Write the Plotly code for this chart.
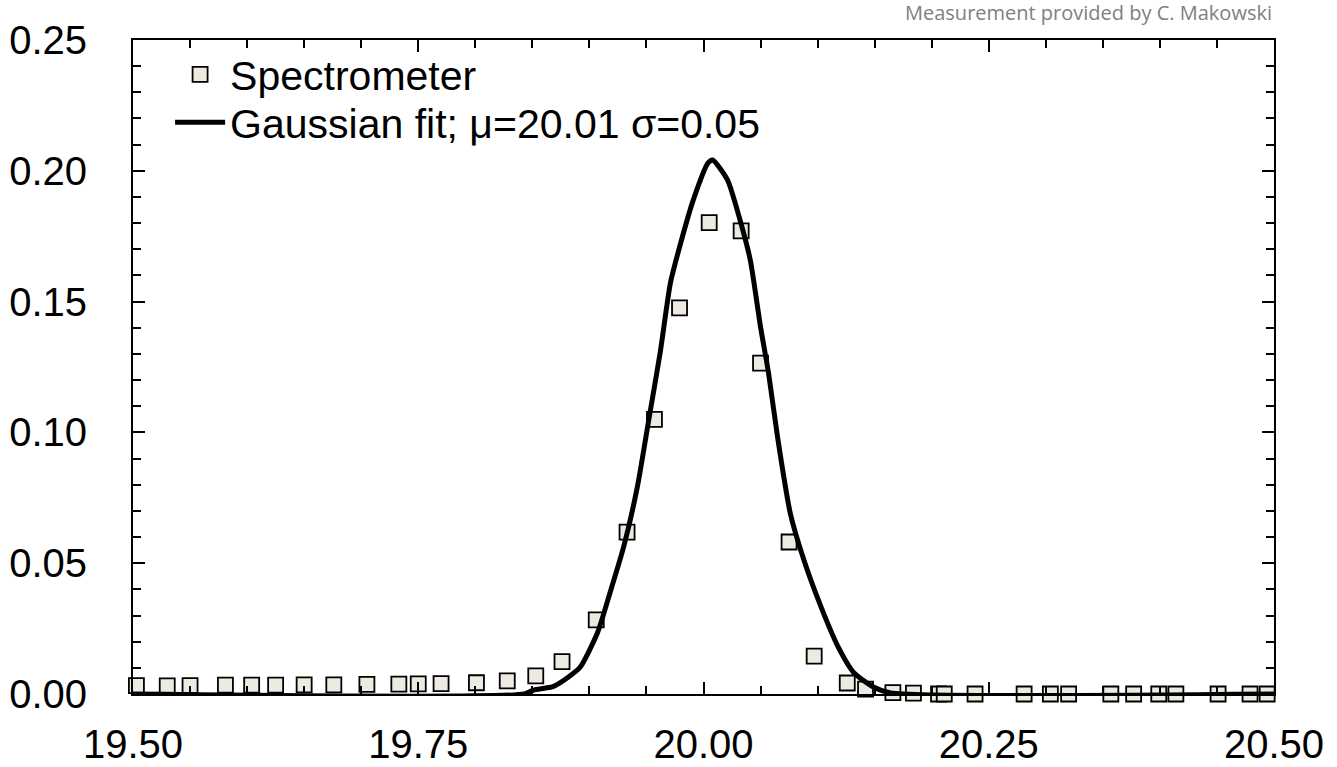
import plotly.graph_objects as go

spec_x = [19.503, 19.530, 19.550, 19.581, 19.604, 19.625, 19.650, 19.676, 19.705, 19.733,
          19.750, 19.770, 19.801, 19.828, 19.853, 19.876, 19.906, 19.933, 19.957, 19.979,
          20.005, 20.033, 20.050, 20.075, 20.097, 20.126, 20.142, 20.166, 20.184, 20.206,
          20.211, 20.238, 20.281, 20.304, 20.320, 20.357, 20.377, 20.399, 20.414, 20.451,
          20.479, 20.494]
spec_y = [0.0032, 0.0031, 0.0032, 0.0034, 0.0034, 0.0034, 0.0035, 0.0035, 0.0037, 0.0038,
          0.0039, 0.0040, 0.0043, 0.0050, 0.0069, 0.0124, 0.0283, 0.0619, 0.1050, 0.1476,
          0.1802, 0.1770, 0.1265, 0.0581, 0.0145, 0.0042, 0.0019, 0.0005, 0.0003, 0.0000,
          0.0000, 0.0000, 0.0000, 0.0000, 0.0000, 0.0000, 0.0000, 0.0000, 0.0000, 0.0000,
          0.0000, 0.0000]

# Gaussian fit curve
fit_x = [19.500, 19.843, 19.851, 19.868, 19.882, 19.892, 19.907, 19.918, 19.930, 19.942,
         19.952, 19.962, 19.971, 19.980, 19.991, 20.004, 20.008, 20.021, 20.032, 20.041,
         20.050, 20.057, 20.065, 20.076, 20.088, 20.103, 20.118, 20.132, 20.149, 20.164,
         20.500]
fit_y = [0.0000, 0.0000, 0.0015, 0.0028, 0.0066, 0.0103, 0.0233, 0.0386, 0.0562, 0.0791,
         0.1047, 0.1304, 0.1571, 0.1724, 0.1888, 0.2030, 0.2041, 0.1965, 0.1812, 0.1659,
         0.1403, 0.1227, 0.0979, 0.0692, 0.0512, 0.0333, 0.0180, 0.0080, 0.0027, 0.0004,
         0.0000]

x_ticks = [19.50, 19.75, 20.00, 20.25, 20.50]
y_ticks = [0.00, 0.05, 0.10, 0.15, 0.20, 0.25]

FONT = "Liberation Sans, Arial, sans-serif"

fig = go.Figure()
fig.add_trace(go.Scatter(
    x=spec_x, y=spec_y, mode="markers", name="Spectrometer",
    marker=dict(symbol="square", size=15, color="#EDEBE1",
                line=dict(color="black", width=1.8)),
    cliponaxis=False, legend="legend",
))
fig.add_trace(go.Scatter(
    x=fit_x, y=fit_y, mode="lines", name="Gaussian fit; μ=20.01 σ=0.05",
    line=dict(color="black", width=5, shape="spline", smoothing=0.6),
    cliponaxis=False, legend="legend2",
))

axis_common = dict(
    showline=True, linecolor="black", linewidth=2, mirror="ticks",
    ticks="inside", tickcolor="black", tickwidth=2,
    showgrid=False, zeroline=False, automargin=False,
    tickfont=dict(family=FONT, size=40, color="black"),
)

fig.update_xaxes(
    range=[19.5, 20.5], tickvals=x_ticks, tickformat=".2f", ticklen=12,
    minor=dict(dtick=0.05, ticks="inside", ticklen=8, tickcolor="black", tickwidth=2),
    ticklabelstandoff=14,
    **axis_common,
)
fig.update_yaxes(
    range=[0, 0.25], tickvals=y_ticks, tickformat=".2f", ticklen=12,
    minor=dict(dtick=0.01, ticks="inside", ticklen=8, tickcolor="black", tickwidth=2),
    ticklabelstandoff=36,
    **axis_common,
)

legend_common = dict(
    xanchor="left", yanchor="top",
    bgcolor="rgba(0,0,0,0)", borderwidth=0,
    font=dict(family=FONT, size=41, color="black"),
    itemwidth=50,
)

fig.update_layout(
    width=1337, height=767,
    margin=dict(l=133, r=63, t=40, b=73),
    plot_bgcolor="white", paper_bgcolor="white",
    font=dict(family=FONT, color="black"),
    showlegend=True,
    legend=dict(x=0.0325, y=0.998, **legend_common),
    legend2=dict(x=0.0325, y=0.925, **legend_common),
    annotations=[dict(
        text="Measurement provided by C. Makowski",
        xref="paper", yref="paper", x=1.0, y=1.0, xanchor="right", yanchor="bottom",
        yshift=12, showarrow=False,
        font=dict(family="Open Sans, sans-serif", size=20, color="#808080"),
    )],
)

# remove the browser's default 8px body margin so the figure sits at the page origin
fig.write_html(
    "out.html",
    config={"displayModeBar": False},
    post_script="document.body.style.margin='0';document.body.style.overflow='hidden';",
)
